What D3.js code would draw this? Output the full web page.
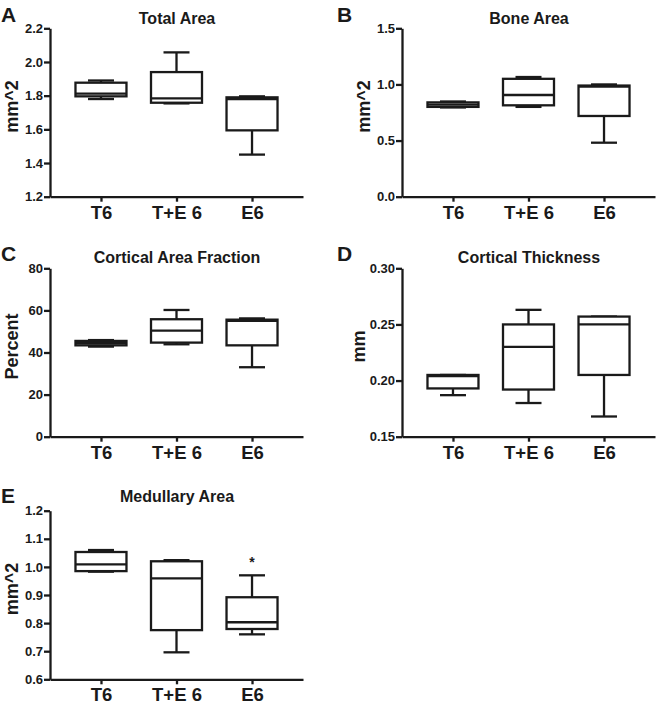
<!DOCTYPE html>
<html>
<head>
<meta charset="utf-8">
<script src="https://cdn.jsdelivr.net/npm/d3@7"></script>
<style>
  body { margin: 0; background: #fff; }
  svg { display: block; }
  text { font-family: "Liberation Sans", Arial, Helvetica, sans-serif; font-weight: bold; fill: #1a1a1a; }
</style>
</head>
<body>
<svg id="chart" width="656" height="710"></svg>
<script>
// ---- data ----
const groups = ["T6", "T+E 6", "E6"];
const panelLetters = ["A", "B", "C", "D", "E"];
const panelTitles = ["Total Area", "Bone Area", "Cortical Area Fraction", "Cortical Thickness", "Medullary Area"];
const yLabels = ["mm^2", "mm^2", "Percent", "mm", "mm^2"];
const yDomains = [[1.2, 2.2], [0, 1.5], [0, 80], [0.15, 0.30], [0.6, 1.2]];
const yTicks = [
  [1.2, 1.4, 1.6, 1.8, 2.0, 2.2],
  [0.0, 0.5, 1.0, 1.5],
  [0, 20, 40, 60, 80],
  [0.15, 0.20, 0.25, 0.30],
  [0.6, 0.7, 0.8, 0.9, 1.0, 1.1, 1.2]
];
const yTickFormats = [".1f", ".1f", "d", ".2f", ".1f"];

// box stats per group: [whisker low, Q1, median, Q3, whisker high]
const totalArea = [
  [1.780, 1.796, 1.812, 1.877, 1.890],
  [1.754, 1.758, 1.784, 1.940, 2.057],
  [1.450, 1.594, 1.780, 1.790, 1.796]
];
const boneArea = [
  [0.795, 0.800, 0.820, 0.840, 0.848],
  [0.800, 0.814, 0.906, 1.050, 1.066],
  [0.481, 0.719, 0.980, 0.990, 1.000]
];
const corticalAreaFraction = [
  [42.8, 43.4, 44.4, 45.5, 45.9],
  [43.9, 44.7, 50.4, 55.8, 60.2],
  [33.0, 43.4, 55.0, 55.6, 56.2]
];
const corticalThickness = [
  [0.187, 0.193, 0.204, 0.205, 0.205],
  [0.180, 0.192, 0.230, 0.250, 0.263],
  [0.168, 0.205, 0.250, 0.257, 0.257]
];
const medullaryArea = [
  [0.983, 0.985, 1.009, 1.053, 1.060],
  [0.696, 0.775, 0.959, 1.020, 1.024],
  [0.760, 0.779, 0.803, 0.892, 0.970]
];
const panelData = [totalArea, boneArea, corticalAreaFraction, corticalThickness, medullaryArea];
// significance markers: [panel index, group]
const significance = [[4, "E6", "*"]];

// ---- layout ----
const layout = [
  {left: 50,  right: 303, top: 28.3,  bottom: 196.7, titleY: 24,  letterX: 1,   letterY: 21.5,  labelOff: 31.7},
  {left: 402, right: 655, top: 28.3,  bottom: 196.7, titleY: 24,  letterX: 337, letterY: 21.5,  labelOff: 32},
  {left: 50,  right: 303, top: 268.3, bottom: 436.7, titleY: 263, letterX: 1,   letterY: 260.5, labelOff: 31.7},
  {left: 402, right: 655, top: 268.3, bottom: 436.7, titleY: 263, letterX: 337, letterY: 260.5, labelOff: 37},
  {left: 50,  right: 303, top: 510.7, bottom: 679.3, titleY: 502, letterX: 1,   letterY: 502.5, labelOff: 31.7}
];
const ink = "#1a1a1a";
const lw = 2.3;
const boxHalf = 25.5, capHalf = 13;

const svg = d3.select("#chart");

panelData.forEach((data, i) => {
  const L = layout[i];
  const g = svg.append("g");
  const x = d3.scalePoint().domain(groups).range([L.left, L.right]).padding(0.675);
  const y = d3.scaleLinear().domain(yDomains[i]).range([L.bottom, L.top]);

  // y axis
  const ya = g.append("g").attr("transform", `translate(${L.left},0)`)
    .call(d3.axisLeft(y).tickValues(yTicks[i]).tickFormat(d3.format(yTickFormats[i]))
      .tickSize(6).tickSizeOuter(0).tickPadding(1));
  // x axis
  const xa = g.append("g").attr("transform", `translate(0,${L.bottom})`)
    .call(d3.axisBottom(x).tickSize(5).tickSizeOuter(0).tickPadding(4));
  [ya, xa].forEach(a => {
    a.select(".domain").attr("stroke", ink).attr("stroke-width", lw);
    a.selectAll(".tick line").attr("stroke", ink).attr("stroke-width", lw);
    a.selectAll("text").attr("fill", ink).style("font-family", '"Liberation Sans", Arial, sans-serif').style("font-weight", "bold");
  });
  ya.selectAll("text").style("font-size", "13px");
  xa.selectAll("text").style("font-size", "18.5px");

  // boxes
  data.forEach((s, j) => {
    const cx = x(groups[j]);
    const [lo, q1, med, q3, hi] = s;
    const bg = g.append("g").attr("stroke", ink).attr("stroke-width", lw).attr("fill", "none");
    bg.append("line").attr("x1", cx).attr("x2", cx).attr("y1", y(lo)).attr("y2", y(q1));
    bg.append("line").attr("x1", cx).attr("x2", cx).attr("y1", y(q3)).attr("y2", y(hi));
    bg.append("line").attr("x1", cx - capHalf).attr("x2", cx + capHalf).attr("y1", y(lo)).attr("y2", y(lo));
    bg.append("line").attr("x1", cx - capHalf).attr("x2", cx + capHalf).attr("y1", y(hi)).attr("y2", y(hi));
    bg.append("rect").attr("x", cx - boxHalf).attr("width", boxHalf * 2)
      .attr("y", y(q3)).attr("height", y(q1) - y(q3)).attr("fill", "#fff");
    bg.append("line").attr("x1", cx - boxHalf).attr("x2", cx + boxHalf).attr("y1", y(med)).attr("y2", y(med));
  });

  // significance markers
  significance.filter(s => s[0] === i).forEach(s => {
    const j = groups.indexOf(s[1]);
    g.append("text").attr("x", x(s[1])).attr("y", y(data[j][4]) - 8.5)
      .attr("text-anchor", "middle").style("font-size", "14px").text(s[2]);
  });

  // title
  g.append("text").attr("x", (L.left + 127)).attr("y", L.titleY)
    .attr("text-anchor", "middle").style("font-size", "16px").text(panelTitles[i]);
  // letter
  g.append("text").attr("x", L.letterX).attr("y", L.letterY)
    .style("font-size", "21px").text(panelLetters[i]);
  // y label
  const ly = (L.top + L.bottom) / 2 - 6;
  g.append("text").attr("transform", `translate(${L.left - L.labelOff},${ly}) rotate(-90)`)
    .attr("text-anchor", "middle").style("font-size", "18px").text(yLabels[i]);
});
</script>
</body>
</html>
